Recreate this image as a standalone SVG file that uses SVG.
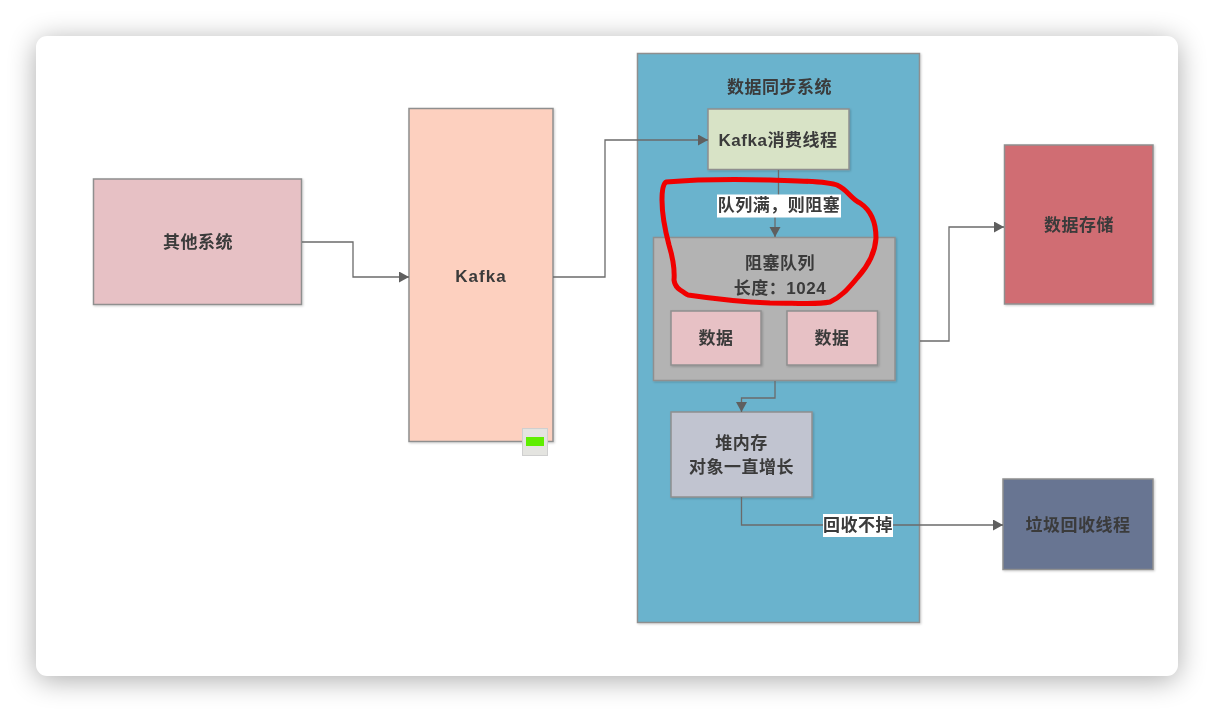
<svg xmlns="http://www.w3.org/2000/svg" width="1214" height="712" viewBox="0 0 1214 712">
<style>
text{font-family:"Liberation Sans","Noto Sans CJK SC",sans-serif;font-weight:bold;fill:#3a3a3a;text-anchor:middle;font-size:17px;letter-spacing:.5px}
.n{stroke:#8f8f8f;stroke-width:1.5}
.c{fill:none;stroke:#6b6b6b;stroke-width:1.3}
</style>
<defs>
<marker id="a" markerWidth="12" markerHeight="12" refX="10" refY="5.500" orient="auto" markerUnits="userSpaceOnUse"><path d="M0 0L10 5.500L0 11z" fill="#5f5f5f"/></marker>
<filter id="w" x="-10%" y="-10%" width="120%" height="120%"><feGaussianBlur stdDeviation="14"/></filter>
<filter id="s" x="-5%" y="-5%" width="115%" height="115%"><feDropShadow dx="1" dy="1" stdDeviation="1" flood-color="#000" flood-opacity="0.2"/></filter>
<filter id="b"><feGaussianBlur stdDeviation="0.7"/></filter>
</defs>
<rect width="1214" height="712" fill="#fff"/>
<rect x="36" y="40" width="1142" height="640" rx="12" fill="#000" opacity="0.33" filter="url(#w)"/>
<rect x="36" y="36" width="1142" height="640" rx="11" fill="#fff"/>
<g filter="url(#b)">
<g id="other" filter="url(#s)"><rect class="n" x="93.500" y="179" width="208" height="125.500" fill="#e7c1c5"/><text x="198" y="248">其他系统</text></g>
<g id="kafka" filter="url(#s)"><rect class="n" x="409" y="108.500" width="144" height="333" fill="#fdd0bf"/><text x="481" y="281.500" style="letter-spacing:1px">Kafka</text></g>
<g id="badge"><rect x="522.500" y="428.500" width="25" height="27" fill="#e4e4e0" stroke="#cfcfcf"/><rect x="526" y="437" width="18" height="9" fill="#5fee00"/></g>
<g id="sync" filter="url(#s)"><rect class="n" x="637.500" y="53.500" width="282" height="569" fill="#6ab3cd"/><text x="779.500" y="93">数据同步系统</text></g>
<g id="consumer" filter="url(#s)"><rect class="n" x="708" y="109" width="141" height="60.500" fill="#d8e3c6"/><text x="778" y="146">Kafka消费线程</text></g>
<g id="queue" filter="url(#s)"><rect class="n" x="653.500" y="237.500" width="241.500" height="143" fill="#b3b3b3"/><text x="780" y="268.500">阻塞队列</text><text x="780" y="294">长度：1024</text></g>
<g id="data1" filter="url(#s)"><rect class="n" x="671" y="311" width="90" height="54" fill="#e7c1c5"/><text x="716" y="343.500">数据</text></g>
<g id="data2" filter="url(#s)"><rect class="n" x="787" y="311" width="90.500" height="54" fill="#e7c1c5"/><text x="832" y="343.500">数据</text></g>
<g id="heap" filter="url(#s)"><rect class="n" x="671" y="412" width="141" height="85" fill="#c1c4d0"/><text x="741.500" y="449">堆内存</text><text x="741.500" y="473">对象一直增长</text></g>
<g id="store" filter="url(#s)"><rect class="n" x="1004.500" y="145" width="148.500" height="159" fill="#d06d73"/><text x="1079" y="231">数据存储</text></g>
<g id="gc" filter="url(#s)"><rect class="n" x="1003" y="479" width="150" height="90.500" fill="#677492"/><text x="1078" y="531">垃圾回收线程</text></g>
<g id="connectors">
<path class="c" marker-end="url(#a)" d="M302 242H353V277H409"/>
<path class="c" marker-end="url(#a)" d="M553 277H605V140H708"/>
<path class="c" marker-end="url(#a)" d="M778.500 170V203H775V237"/>
<path class="c" marker-end="url(#a)" d="M775 381V398H741.500V412"/>
<path class="c" marker-end="url(#a)" d="M920 341H949V227H1004"/>
<path class="c" marker-end="url(#a)" d="M741.500 497V525H1003"/>
<rect x="717" y="194.500" width="124" height="23" fill="#fff"/><text x="779" y="211">队列满，则阻塞</text>
<rect x="823" y="514" width="70" height="23" fill="#fff"/><text x="858" y="531">回收不掉</text>
</g>
<path id="ink" fill="none" stroke="#f00000" stroke-width="5" stroke-linecap="round" stroke-linejoin="round" d="M666 182C690 180 730 179 770 180C800 181 825 181 837 185C848 190 850 198 860 203C872 211 876 223 876 238C875 256 866 268 858 277C850 286 843 296 830 302C815 305 795 303 770 303C745 302 715 299 688 295C680 290 675 288 674 280C675 268 672 255 669 245C665 230 662 215 662 200C662 190 663 184 666 182Z"/>
</g>
</svg>
